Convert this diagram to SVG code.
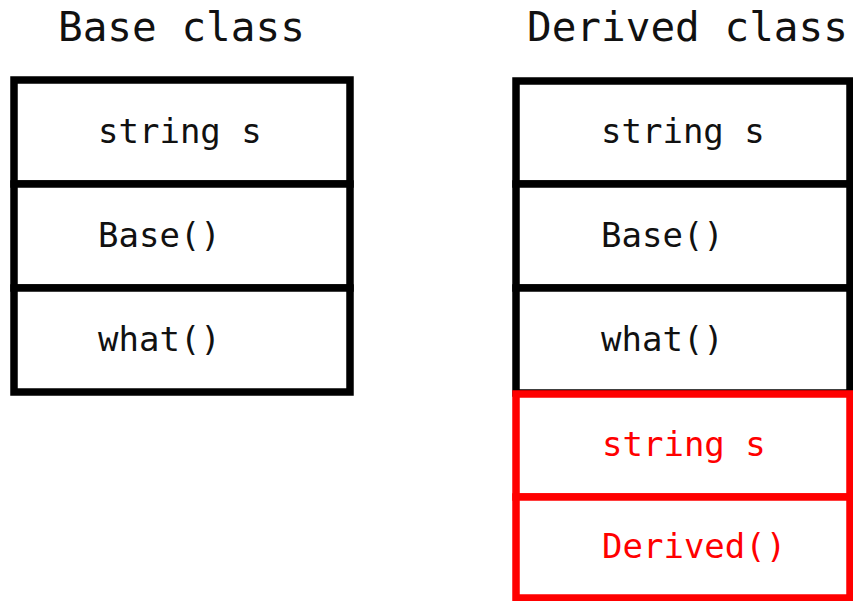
<svg xmlns="http://www.w3.org/2000/svg" width="853" height="601" viewBox="0 0 853 601">
<style>
.t{font-family:"DejaVu Sans Mono","Liberation Mono",monospace;font-size:34px;fill:#111}
.h{font-family:"DejaVu Sans Mono","Liberation Mono",monospace;font-size:41px;fill:#111}
.b{fill:#fff;stroke:#000;stroke-width:7.5}
.r{fill:#fff;stroke:#ff0000;stroke-width:7.5}
.rt{fill:#ff0000}
</style>
<rect width="853" height="601" fill="#fff"/>
<g id="base-title"><text class="h" x="58" y="41">Base class</text></g>
<g id="derived-title"><text class="h" x="527" y="41">Derived class</text></g>
<g id="base-class">
<rect class="b" x="14" y="80" width="336" height="104"/>
<rect class="b" x="14" y="184" width="336" height="104"/>
<rect class="b" x="14" y="288" width="336" height="104"/>
<text class="t" x="98" y="143">string s</text>
<text class="t" x="98" y="247">Base()</text>
<text class="t" x="98" y="351">what()</text>
</g>
<g id="derived-class">
<rect class="b" x="516" y="81" width="334" height="103"/>
<rect class="b" x="516" y="184" width="334" height="104"/>
<rect class="b" x="516" y="288" width="334" height="105"/>
<rect class="r" x="516" y="394" width="334" height="103"/>
<rect class="r" x="516" y="497" width="334" height="101"/>
<text class="t" x="601" y="143">string s</text>
<text class="t" x="601" y="247">Base()</text>
<text class="t" x="601" y="351">what()</text>
<text class="t rt" x="602" y="456">string s</text>
<text class="t rt" x="602" y="558">Derived()</text>
</g>
<g id="connectors"></g>
</svg>
